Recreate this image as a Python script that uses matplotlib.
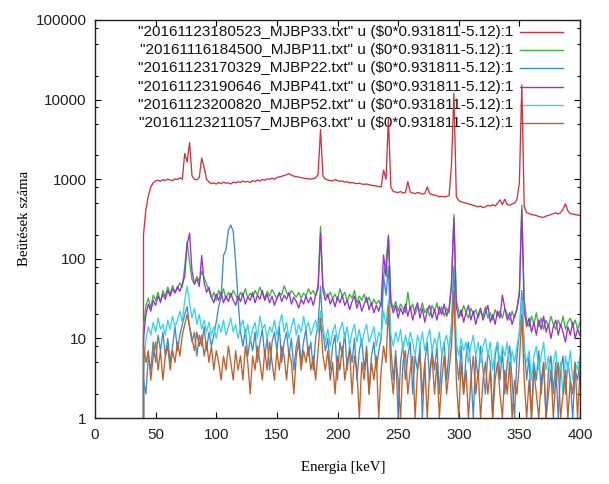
import numpy as np
import matplotlib
matplotlib.use("Agg")
import matplotlib.pyplot as plt
from matplotlib.ticker import LogLocator, FixedLocator, NullFormatter

# Energy grid (keV)
energy = list(range(38, 401, 2))

mjbp33 = [0, 200, 420, 620, 800, 900, 950, 970, 940, 990,
          960, 1000, 980, 960, 1010, 990, 1040, 1000, 2100, 1650,
          2900, 1100, 1000, 980, 1050, 1850, 1400, 1000, 920, 880,
          900, 870, 910, 880, 920, 890, 900, 870, 920, 900,
          930, 910, 950, 920, 940, 910, 960, 930, 980, 950,
          990, 970, 1010, 1000, 1030, 1000, 1050, 1070, 1090, 1110,
          1140, 1170, 1130, 1090, 1080, 1060, 1050, 1030, 1020, 1010,
          1000, 1020, 1040, 1150, 4200, 1100, 1000, 980, 960, 950,
          990, 960, 940, 950, 920, 930, 900, 910, 890, 880,
          890, 870, 860, 870, 850, 840, 830, 820, 810, 800,
          1300, 1000, 5800, 800, 700, 690, 680, 700, 670, 680,
          930, 690, 670, 660, 680, 670, 650, 660, 800, 660,
          640, 630, 620, 600, 610, 600, 610, 620, 1500, 12000,
          600, 540, 520, 510, 500, 490, 480, 470, 460, 450,
          460, 440, 450, 470, 460, 480, 460, 500, 550, 480,
          560, 480, 470, 490, 500, 560, 900, 15300, 450, 380,
          370, 360, 355, 350, 340, 335, 330, 345, 350, 360,
          370, 380, 365, 380, 420, 490, 400, 370, 365, 360,
          355, 350]

mjbp11 = [0, 14, 26, 32, 24, 35, 30, 38, 28, 40,
          34, 44, 36, 46, 38, 42, 50, 44, 80, 165,
          90, 55, 48, 60, 52, 70, 58, 48, 40, 32,
          38, 30, 40, 34, 42, 31, 38, 33, 40, 35,
          30, 38, 34, 42, 32, 37, 33, 40, 35, 44,
          36, 32, 39, 34, 41, 36, 31, 38, 35, 46,
          38, 34, 40, 36, 33, 38, 32, 37, 34, 42,
          36, 40, 34, 48, 255, 45, 36, 33, 38, 32,
          36, 30, 42, 34, 38, 29, 36, 32, 40, 28,
          34, 30, 36, 28, 33, 26, 31, 27, 30, 25,
          60, 90, 200, 30, 24, 29, 22, 27, 24, 21,
          38, 23, 27, 20, 25, 22, 28, 21, 24, 19,
          26, 22, 28, 20, 25, 19, 24, 21, 50, 360,
          30, 22, 19, 26, 21, 18, 24, 20, 23, 18,
          22, 19, 25, 18, 21, 17, 23, 19, 22, 18,
          24, 20, 17, 22, 18, 24, 40, 475, 30, 17,
          14, 19, 15, 21, 14, 18, 13, 17, 14, 19,
          15, 13, 17, 14, 19, 13, 16, 18, 14, 17,
          13, 16]

mjbp22 = [0, 3, 2, 6, 4, 9, 5, 11, 7, 12,
          6, 10, 5, 8, 14, 7, 11, 15, 20, 25,
          14, 9, 12, 6, 11, 8, 14, 7, 12, 8,
          11, 16, 25, 33, 110, 130, 230, 265, 220, 90,
          30, 12, 8, 13, 6, 10, 7, 12, 5, 9,
          13, 6, 10, 4, 9, 12, 7, 14, 5, 9,
          12, 6, 10, 4, 8, 11, 5, 9, 13, 6,
          9, 4, 10, 15, 45, 12, 7, 10, 4, 8,
          11, 3, 9, 6, 12, 4, 8, 5, 10, 3,
          7, 10, 4, 8, 2, 6, 9, 4, 7, 10,
          60, 35, 80, 8, 3, 7, 1, 5, 9, 3,
          6, 9, 2, 6, 4, 8, 1, 5, 9, 3,
          7, 4, 8, 2, 6, 9, 3, 7, 15, 80,
          6, 3, 8, 2, 6, 9, 4, 1, 6, 3,
          8, 4, 2, 7, 5, 1, 6, 9, 3, 7,
          2, 5, 8, 3, 1, 6, 12, 40, 8, 3,
          6, 1, 5, 3, 7, 2, 5, 1, 4, 6,
          2, 5, 1, 4, 6, 2, 5, 3, 1, 4,
          3, 5]

mjbp41 = [0, 10, 20, 27, 22, 30, 26, 34, 29, 36,
          31, 40, 34, 42, 37, 45, 39, 48, 60, 150,
          210, 70, 48, 56, 45, 110, 50, 38, 44, 33,
          28, 36, 30, 38, 28, 34, 29, 37, 30, 26,
          34, 29, 37, 27, 33, 30, 38, 28, 35, 31,
          40, 30, 36, 28, 34, 26, 32, 37, 29, 35,
          31, 38, 27, 33, 29, 24, 31, 27, 34, 28,
          33, 26, 35, 42, 210, 40, 30, 36, 27, 32,
          25, 33, 28, 35, 26, 30, 23, 29, 34, 24,
          30, 22, 27, 33, 23, 28, 21, 26, 22, 28,
          112, 60, 190, 28, 21, 26, 18, 24, 20, 27,
          19, 25, 17, 23, 28, 18, 24, 16, 22, 26,
          18, 23, 17, 25, 20, 27, 19, 24, 45, 330,
          25, 18, 23, 16, 21, 26, 17, 22, 15, 20,
          24, 17, 21, 26, 16, 20, 15, 22, 18, 35,
          24, 17, 21, 15, 19, 23, 35, 420, 22, 14,
          18, 12, 16, 11, 17, 13, 19, 12, 15, 10,
          14, 17, 11, 15, 12, 9, 14, 11, 16, 10,
          13, 11]

mjbp52 = [0, 4, 10, 14, 11, 16, 12, 18, 13, 15,
          11, 17, 13, 19, 14, 17, 22, 16, 30, 45,
          28, 18, 24, 15, 20, 13, 17, 12, 16, 11,
          14, 10, 15, 12, 17, 11, 14, 18, 12, 15,
          10, 14, 17, 11, 15, 9, 13, 16, 10, 19,
          13, 15, 10, 14, 12, 17, 11, 15, 20, 12,
          16, 10, 14, 18, 11, 15, 12, 19, 13, 16,
          11, 14, 17, 12, 22, 14, 9, 13, 8, 12,
          15, 9, 13, 16, 10, 14, 8, 12, 15, 9,
          13, 8, 12, 15, 9, 11, 14, 8, 12, 10,
          22, 15, 30, 11, 8, 12, 9, 13, 7, 11,
          8, 12, 9, 6, 11, 8, 12, 7, 10, 13,
          7, 10, 8, 12, 6, 9, 11, 7, 14, 35,
          9, 6, 10, 7, 9, 5, 8, 11, 6, 9,
          5, 8, 10, 6, 9, 4, 7, 9, 5, 8,
          6, 9, 4, 7, 5, 8, 12, 30, 7, 5,
          7, 3, 6, 8, 4, 6, 9, 4, 6, 3,
          5, 7, 3, 5, 2, 6, 4, 7, 3, 5,
          4, 6]

mjbp63 = [0, 8, 5, 7, 3, 6, 9, 4, 7, 3,
          6, 8, 4, 7, 5, 9, 6, 11, 15, 20,
          14, 10, 7, 12, 8, 11, 6, 9, 5, 8,
          4, 7, 5, 3, 6, 4, 8, 5, 3, 7,
          4, 6, 3, 8, 5, 2, 6, 4, 8, 5,
          3, 7, 4, 9, 5, 3, 7, 4, 8, 6,
          3, 7, 5, 2, 6, 9, 4, 7, 5, 8,
          4, 6, 3, 7, 18, 6, 4, 7, 3, 5,
          2, 6, 4, 8, 3, 5, 7, 2, 6, 4,
          1, 5, 3, 7, 2, 5, 3, 6, 1, 4,
          8, 5, 25, 4, 2, 6, 3, 1, 5, 7,
          2, 4, 6, 1, 4, 6, 2, 5, 1, 4,
          6, 2, 5, 1, 3, 6, 2, 4, 8, 40,
          3, 1, 5, 2, 4, 1, 3, 6, 2, 4,
          1, 3, 5, 2, 4, 1, 3, 5, 2, 1,
          4, 2, 5, 1, 3, 2, 5, 20, 3, 1,
          3, 1, 4, 2, 1, 3, 5, 1, 2, 4,
          1, 3, 5, 1, 2, 4, 1, 3, 2, 5,
          1, 4]

labels = [
    '"20161123180523_MJBP33.txt" u ($0*0.931811-5.12):1',
    '"20161116184500_MJBP11.txt" u ($0*0.931811-5.12):1',
    '"20161123170329_MJBP22.txt" u ($0*0.931811-5.12):1',
    '"20161123190646_MJBP41.txt" u ($0*0.931811-5.12):1',
    '"20161123200820_MJBP52.txt" u ($0*0.931811-5.12):1',
    '"20161123211057_MJBP63.txt" u ($0*0.931811-5.12):1',
]
series = [mjbp33, mjbp11, mjbp22, mjbp41, mjbp52, mjbp63]
colors = ["#d2323c", "#3cb43c", "#3c8cd0", "#9632d2", "#3cd2e6", "#c0602a"]

xticks = [0, 50, 100, 150, 200, 250, 300, 350, 400]
yticks = [1, 10, 100, 1000, 10000, 100000]

W, H = 609, 484
fig = plt.figure(figsize=(W / 100, H / 100), dpi=100)
L, R, T, B = 95, 580, 20, 418
ax = fig.add_axes([L / W, (H - B) / H, (R - L) / W, (B - T) / H])

for vals, c in zip(series, colors):
    ax.plot(energy, vals, color=c, lw=0.95, zorder=2)

ax.set_yscale("log", nonpositive="clip")
ax.set_xlim(0, 400)
ax.set_ylim(1, 100000)

sans = "Liberation Sans"
serif = "Liberation Serif"
ax.set_xticks(xticks)
ax.set_xticklabels([str(v) for v in xticks], fontfamily=sans, fontsize=11, color="#222222")
ax.yaxis.set_major_locator(FixedLocator(yticks))
ax.set_yticklabels([str(v) for v in yticks], fontfamily=sans, fontsize=11, color="#222222")
ax.yaxis.set_minor_locator(LogLocator(base=10, subs=[2, 5, 8]))
ax.yaxis.set_minor_formatter(NullFormatter())
ax.tick_params(axis="both", which="major", direction="in", length=4, width=0.8,
               top=True, right=True, pad=6)
ax.tick_params(axis="both", which="minor", direction="in", length=2.5, width=0.8,
               top=True, right=True)
ax.tick_params(axis="x", which="major", pad=7)
for s in ax.spines.values():
    s.set_linewidth(1.0)
    s.set_color("#222222")

fig.text(343 / W, 1 - 468 / H, "Energia [keV]", fontfamily=serif, fontsize=10.7,
         ha="center", va="center")
fig.text(25 / W, 1 - 218 / H, "Beütések száma", fontfamily=serif, fontsize=10.7,
         ha="center", va="center", rotation=90)

# key (gnuplot style: right-justified text, sample to the right)
for i, (lab, c) in enumerate(zip(labels, colors)):
    ypx = 32 + 18.2 * i
    yf = 1 - (ypx - T) / (B - T)
    ax.text((513 - L) / (R - L), yf, lab, transform=ax.transAxes, ha="right", va="center",
            fontfamily=sans, fontsize=11, zorder=1, color="#111111")
    ax.plot([(520 - L) / (R - L), (563 - L) / (R - L)], [yf, yf], transform=ax.transAxes,
            color=c, lw=1.0, zorder=1, clip_on=False)

fig.savefig("out.png", dpi=100)
